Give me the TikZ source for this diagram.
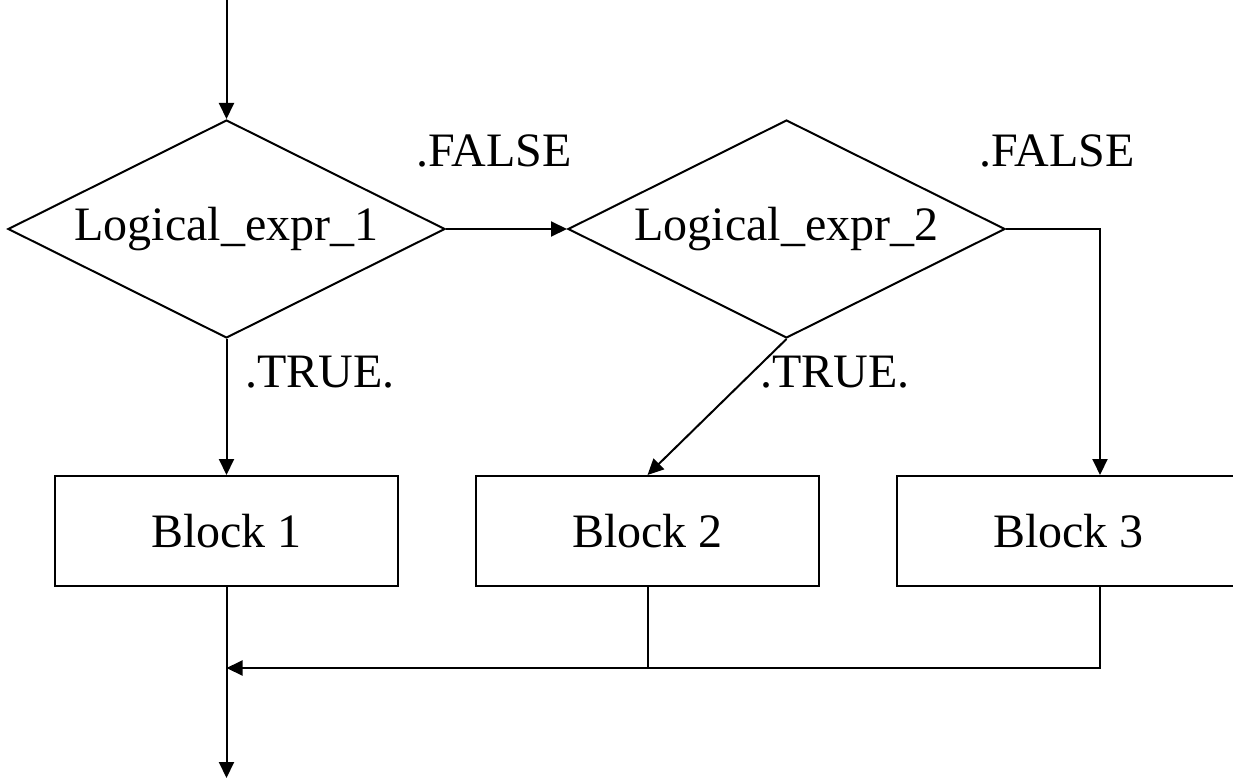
\documentclass[tikz,border=0pt]{standalone}
\usepackage{fontspec}
\setmainfont{Liberation Serif}
\usetikzlibrary{shapes.geometric,arrows.meta}
\begin{document}
\begin{tikzpicture}[x=1pt,y=-1pt,
  every node/.style={font=\fontsize{48}{58}\selectfont},
  flow/.style={line width=2pt},
  arr/.style={flow,-{Triangle[length=16pt,width=15pt]}},
  decision/.style={draw,line width=2pt,shape=diamond,aspect=2,inner sep=0pt,
                   minimum width=437pt,minimum height=218pt},
  block/.style={draw,line width=2pt,minimum width=343pt,minimum height=110pt,inner sep=0pt},
  lbl/.style={anchor=base,inner sep=0pt}]
\useasboundingbox (0,0) rectangle (1233,778);
\clip (0,0) rectangle (1233,778);

% decisions
\coordinate (start) at (226.5,0);
\node[decision] (d1) at (226.5,229) {Logical\_expr\_1};
\node[decision] (d2) at (786.5,229) {Logical\_expr\_2};

% blocks
\node[block] (b1) at (226.5,531) {Block 1};
\node[block] (b2) at (647.5,531) {Block 2};
\node[block] (b3) at (1068.5,531) {Block 3};

% branch labels
\node[lbl] (f1) at (494,167) {.FALSE};
\node[lbl] (f2) at (1057,167) {.FALSE};
\node[lbl] (t1) at (320,387) {.TRUE.};
\node[lbl] (t2) at (835,387) {.TRUE.};

% control flow
\draw[arr] (start) -- (d1.north);
\draw[arr] (d1.east) -- (d2.west);
\draw[arr] (d1.south) -- (b1.north);
\draw[arr] (d2.south) -- (b2.north);
\draw[arr] (d2.east) -| ([xshift=31.5pt]b3.north);

% merge below the blocks
\coordinate (join) at (226.5,668);
\coordinate (exit) at (226.5,778);
\draw[flow] (b2.south) -- (b2.south |- join);
\draw[arr] ([xshift=31.5pt]b3.south) |- (join);
\draw[arr] (b1.south) -- (exit);
\end{tikzpicture}
\end{document}
